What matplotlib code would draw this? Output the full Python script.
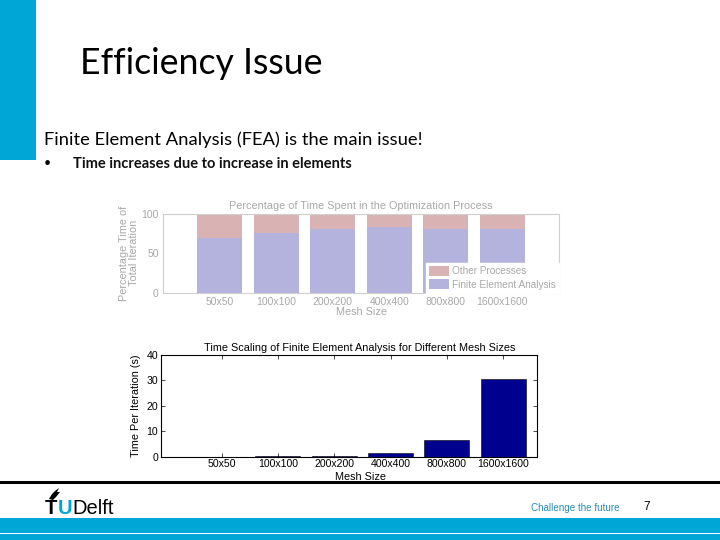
import matplotlib
matplotlib.use("Agg")
import matplotlib.pyplot as plt
from matplotlib.patches import Rectangle, Polygon

# ---------------- data ----------------
mesh_sizes = ["50x50", "100x100", "200x200", "400x400", "800x800", "1600x1600"]
fea_pct = [69.4, 75.2, 80.7, 83.2, 80.7, 80.7]
other_pct = [30.6, 24.8, 19.3, 16.8, 19.3, 19.3]
time_per_iter = [0.03, 0.1, 0.4, 1.6, 6.7, 30.4]
pct_ticks = [0, 50, 100]
time_ticks = [0, 10, 20, 30, 40]

slide_title = "Efficiency Issue"
slide_sub = "Finite Element Analysis (FEA) is the main issue!"
slide_bullet = "Time increases due to increase in elements"

W, H = 720, 540
fig = plt.figure(figsize=(7.2, 5.4), dpi=100)
fig.patch.set_facecolor("white")
R = fig.canvas.get_renderer()

def fx(px):
    return px / W

def fy(py):
    return 1 - py / H

def fit_text(x, y, s, target_w, size0=12, **kw):
    t = fig.text(fx(x), fy(y), s, fontsize=size0, ha="left", va="baseline", **kw)
    w = t.get_window_extent(R).width
    t.set_fontsize(size0 * target_w / w)
    return t

CYAN = "#00A6D6"
SLIDE_FONT = ["Lato", "DejaVu Sans"]
CHART_FONT = ["Liberation Sans", "DejaVu Sans"]

# ---------------- slide decorations ----------------
fig.patches.append(Rectangle((0, fy(160)), fx(36), 160 / H, transform=fig.transFigure,
                             facecolor=CYAN, edgecolor="none", zorder=0))
fit_text(80, 74, slide_title, 243, family=SLIDE_FONT, color="black")
fit_text(44, 145, slide_sub, 377, family=SLIDE_FONT, color="black")
fig.text(fx(44), fy(167), "\u2022", fontsize=9, ha="left", va="baseline", color="black",
         family=SLIDE_FONT)
fit_text(72.7, 167.7, slide_bullet, 275, family=SLIDE_FONT, color="#111111", weight="bold")

# ---------------- top chart ----------------
COL_OTHER = "#D9B3B3"
COL_FEA = "#B3B3DD"
GRAY_TXT = "#A8A8A8"
GRAY_LINE = "#CFCFCF"

ax1 = fig.add_axes([fx(163), fy(293.3), fx(559) - fx(163), (293.3 - 213.5) / H])
pos = list(range(1, len(mesh_sizes) + 1))
b_fea = ax1.bar(pos, fea_pct, width=0.8, color=COL_FEA, edgecolor="none",
                label="Finite Element Analysis")
b_oth = ax1.bar(pos, other_pct, width=0.8, bottom=fea_pct, color=COL_OTHER,
                edgecolor="none", label="Other Processes")
ax1.set_xlim(0, 7)
ax1.set_ylim(0, 100)
ax1.set_yticks(pct_ticks)
ax1.set_xticks(pos)
ax1.set_xticklabels(mesh_sizes)
ax1.tick_params(axis="both", length=0, labelsize=7.5, labelcolor=GRAY_TXT, pad=3)
for lab in ax1.get_xticklabels() + ax1.get_yticklabels():
    lab.set_family(CHART_FONT)
for sp in ax1.spines.values():
    sp.set_color(GRAY_LINE)
    sp.set_linewidth(0.8)
ax1.set_title("Percentage of Time Spent in the Optimization Process", fontsize=7.8,
              color=GRAY_TXT, family=CHART_FONT, pad=3)
ax1.set_xlabel("Mesh Size", fontsize=7.8, color=GRAY_TXT, family=CHART_FONT, labelpad=0)
fig.text(fx(129), fy(253), "Percentage Time of\nTotal Iteration", rotation=90,
         ha="center", va="center", fontsize=7.8, color=GRAY_TXT, family=CHART_FONT,
         linespacing=1.0)
leg = ax1.legend(handles=[b_oth, b_fea], loc="lower right", bbox_to_anchor=(1.0, 0.0),
                 borderaxespad=0.05, frameon=True, fancybox=False,
                 framealpha=1, facecolor="white", edgecolor="white",
                 handlelength=2.0, handleheight=1.15, handletextpad=0.25, labelspacing=0.3,
                 borderpad=0.3, prop={"family": CHART_FONT, "size": 7.2})
for t in leg.get_texts():
    t.set_color(GRAY_TXT)

# ---------------- bottom chart ----------------
NAVY = "#00008F"
ax2 = fig.add_axes([fx(160.7), fy(456.7), fx(537) - fx(160.7), (456.7 - 355) / H])
ax2.bar(pos, time_per_iter, width=0.8, color=NAVY, edgecolor="black", linewidth=0.4)
ax2.set_xlim(-0.08, 6.6)
ax2.set_ylim(0, 40)
ax2.set_yticks(time_ticks)
ax2.set_xticks(pos)
ax2.set_xticklabels(mesh_sizes)
ax2.tick_params(axis="both", direction="in", length=3, width=0.5, labelsize=7.6,
                top=True, right=True, pad=2, colors="black")
for lab in ax2.get_xticklabels() + ax2.get_yticklabels():
    lab.set_family(CHART_FONT)
for sp in ax2.spines.values():
    sp.set_color("black")
    sp.set_linewidth(0.8)
ax2.set_title("Time Scaling of Finite Element Analysis for Different Mesh Sizes",
              fontsize=7.8, family=CHART_FONT, pad=3, x=0.53)
ax2.set_xlabel("Mesh Size", fontsize=7.8, family=CHART_FONT, labelpad=0)
ax2.xaxis.set_label_coords(0.53, -0.155)
ax2.set_ylabel("Time Per Iteration (s)", fontsize=7.8, family=CHART_FONT, labelpad=4)

# ---------------- footer ----------------
fig.patches.append(Rectangle((0, fy(483.5)), 1, 3 / H, transform=fig.transFigure,
                             facecolor="black", edgecolor="none", zorder=5))
fig.patches.append(Rectangle((0, 0), 1, (540 - 518) / H, transform=fig.transFigure,
                             facecolor=CYAN, edgecolor="none", zorder=1))
fig.patches.append(Rectangle((0, fy(533.5)), 1, 1 / H, transform=fig.transFigure,
                             facecolor="white", edgecolor="none", zorder=2))

tT = fig.text(fx(45), fy(514), "T", fontsize=14.5, weight="bold", family=CHART_FONT,
              ha="left", va="baseline", color="black")
xT = tT.get_window_extent(R).x1
tU = fig.text(xT / W, fy(514), "U", fontsize=14.5, weight="bold", family=CHART_FONT,
              ha="left", va="baseline", color=CYAN)
xU = tU.get_window_extent(R).x1
fig.text(xU / W, fy(514), "Delft", fontsize=14.5, family=CHART_FONT,
         ha="left", va="baseline", color="black")
flame = [(49, 499), (52, 494), (55, 491), (59, 488), (57, 492), (60, 492), (56, 497), (53, 500)]
fig.patches.append(Polygon([(fx(a), fy(b)) for a, b in flame], closed=True,
                           transform=fig.transFigure, facecolor="black", edgecolor="none"))

fit_text(531, 511, "Challenge the future", 89, family=CHART_FONT, color="#2B8CB3")
fig.text(fx(643), fy(510), "7", fontsize=8.5, family=CHART_FONT, ha="left",
         va="baseline", color="black")

fig.savefig("out.png", dpi=100, facecolor="white")
